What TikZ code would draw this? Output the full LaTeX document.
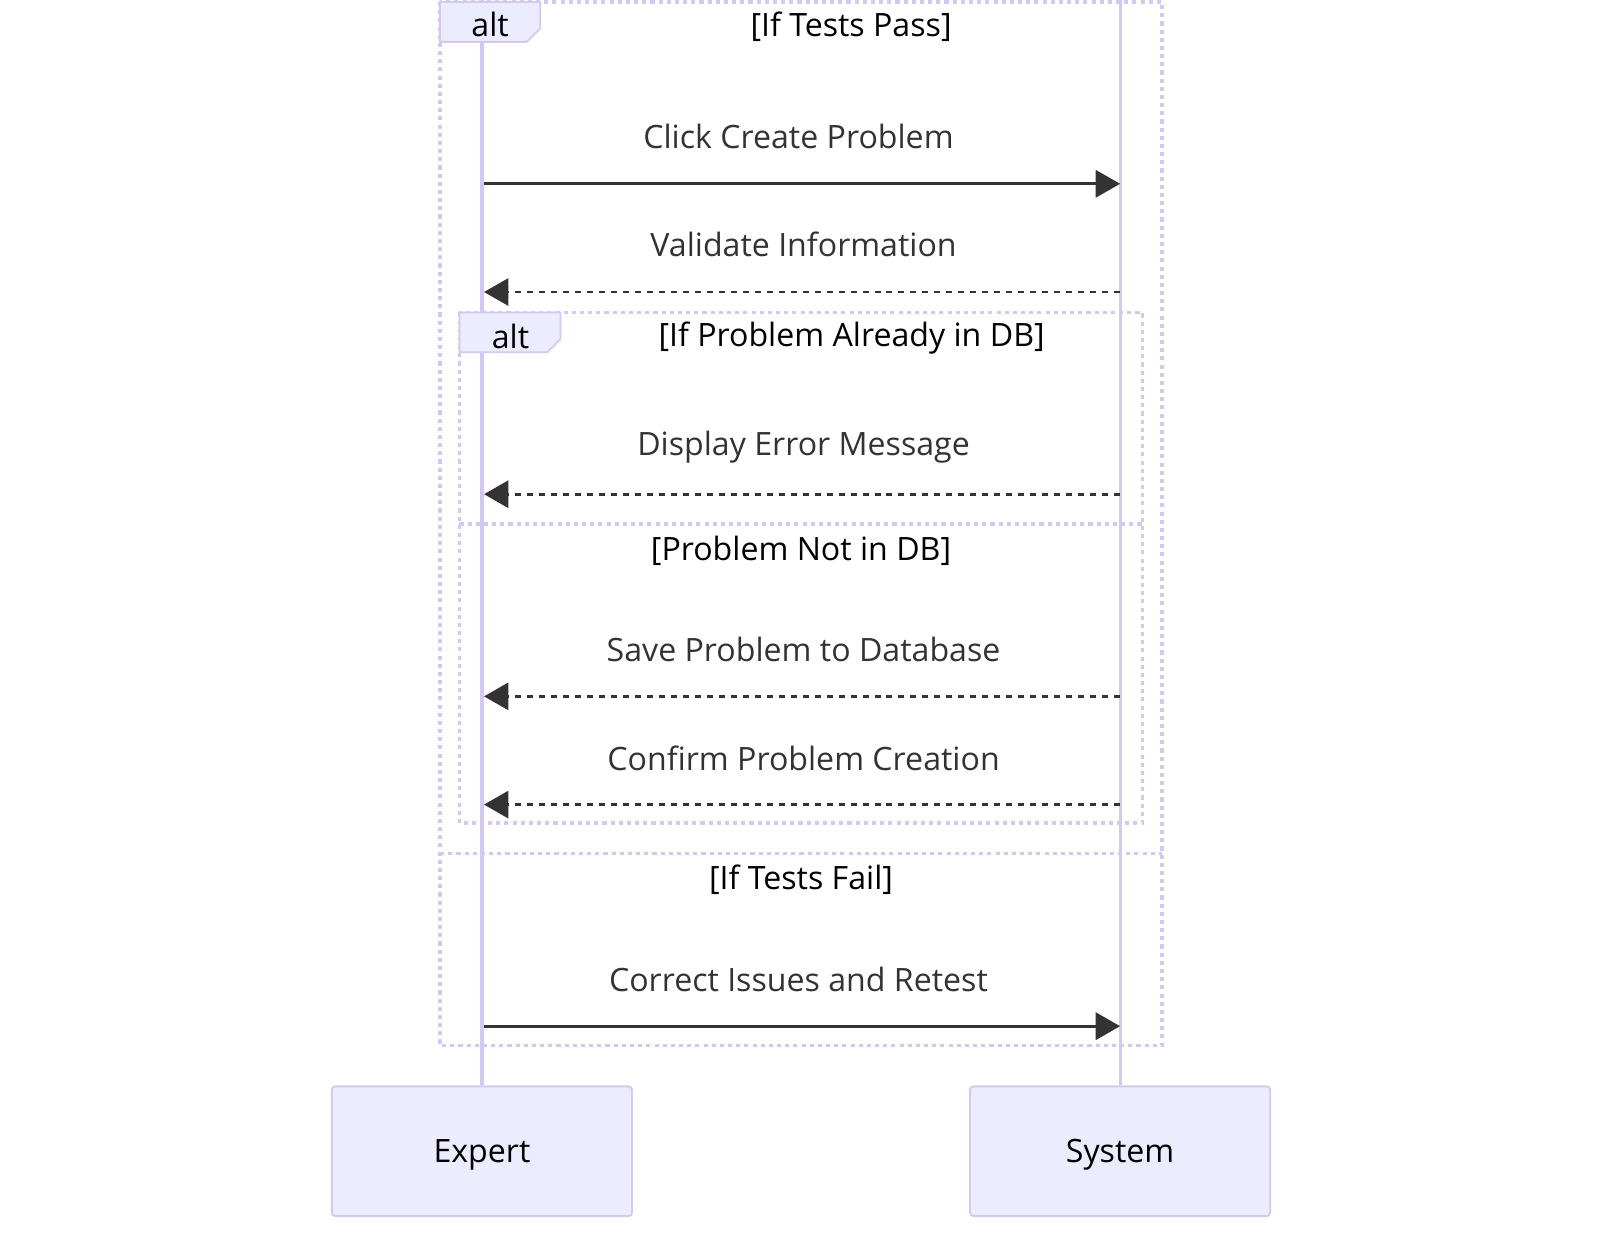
\documentclass[tikz,border=0pt]{standalone}
\usepackage{fontspec}
\setmainfont{Open Sans}
\usetikzlibrary{arrows.meta}
\definecolor{lav}{HTML}{D3C8EF}
\definecolor{boxfill}{HTML}{ECECFF}
\definecolor{msg}{HTML}{333333}
\tikzset{
  lifeline/.style={draw=lav, line width=2.3pt},
  frame/.style={draw=lav, line width=2.7pt, dash pattern=on 3pt off 3pt},
  tagbox/.style={draw=lav, fill=boxfill, line width=1.3pt},
  actorbox/.style={draw=lav, fill=boxfill, line width=1.4pt, rounded corners=2.5pt, minimum width=294*0.75pt, minimum height=127*0.75pt},
  msgtext/.style={font=\fontsize{23.6pt}{28pt}\selectfont, text=msg, yshift=-1pt},
  sectext/.style={font=\fontsize{23.6pt}{28pt}\selectfont, text=black, yshift=-1pt},
  actortext/.style={font=\fontsize{23.6pt}{28pt}\selectfont, text=black, yshift=-2.5pt},
  solidmsg/.style={draw=msg, line width=2.1pt, -{Triangle[length=18pt, width=20pt]}},
  dashmsg/.style={draw=msg, line width=2.1pt, dash pattern=on 4.4pt off 4.4pt, -{Triangle[length=18pt, width=20pt]}},
}
\begin{document}
\begin{tikzpicture}[x=0.75pt, y=-0.75pt]
\useasboundingbox (0,0) rectangle (1567,1212.5);
% lifelines
\coordinate (eTop) at (472,0);
\coordinate (sTop) at (1097,0);
\node[actorbox] (expert) at (472,1127.5) {};
\node[actorbox] (system) at (1097,1127.5) {};
\node[actortext] (expertlbl) at (expert.center) {Expert};
\node[actortext] (systemlbl) at (system.center) {System};
\draw[lifeline] (eTop) -- (expert.north);
\draw[lifeline] (sTop) -- (system.north);
% outer alt frame
\draw[frame] (431,2) rectangle (1138,1024);
\draw[frame] (431,836) -- (1138,836);
\draw[tagbox] (431,2) -- (529,2) -- (529,28) -- (516,41) -- (431,41) -- cycle;
\node[sectext] (alt1) at (480,23) {alt};
\node[sectext] (c1) at (833.5,25) {[If Tests Pass]};
\node[sectext] (c4) at (784.5,860) {[If Tests Fail]};
% inner alt frame
\draw[frame] (450,306) rectangle (1119,806);
\draw[frame] (450,513) -- (1119,513);
\draw[tagbox] (450,306) -- (549,306) -- (549,332) -- (536,345) -- (450,345) -- cycle;
\node[sectext] (alt2) at (500,328) {alt};
\node[sectext] (c2) at (834,330) {[If Problem Already in DB]};
\node[sectext] (c3) at (784.5,538) {[Problem Not in DB]};
% messages
\coordinate (e1) at (474,180); \coordinate (s1) at (1097,180);
\coordinate (e2) at (474,286); \coordinate (s2) at (1097,286);
\coordinate (e3) at (474,484); \coordinate (s3) at (1097,484);
\coordinate (e4) at (474,682); \coordinate (s4) at (1097,682);
\coordinate (e5) at (474,788); \coordinate (s5) at (1097,788);
\coordinate (e6) at (474,1005); \coordinate (s6) at (1097,1005);
\node[msgtext] (m1) at (782,132) {Click Create Problem};
\draw[solidmsg] (e1) -- (s1);
\node[msgtext] (m2) at (787,238) {Validate Information};
\draw[dashmsg] (s2) -- (e2);
\node[msgtext] (m3) at (787,437) {Display Error Message};
\draw[dashmsg] (s3) -- (e3);
\node[msgtext] (m4) at (787,635) {Save Problem to Database};
\draw[dashmsg] (s4) -- (e4);
\node[msgtext] (m5) at (787,741) {Confirm Problem Creation};
\draw[dashmsg] (s5) -- (e5);
\node[msgtext] (m6) at (782,958) {Correct Issues and Retest};
\draw[solidmsg] (e6) -- (s6);
\end{tikzpicture}
\end{document}
